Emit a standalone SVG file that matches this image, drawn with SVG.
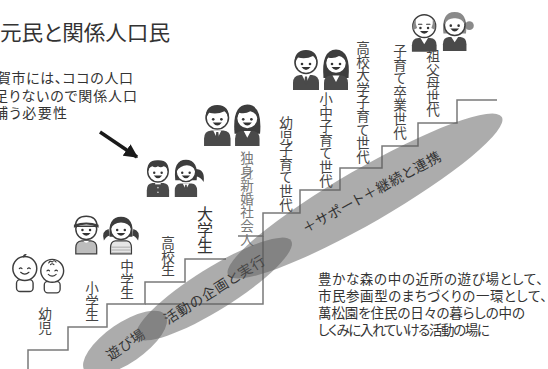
<svg xmlns="http://www.w3.org/2000/svg" xmlns:xlink="http://www.w3.org/1999/xlink" width="548" height="369" viewBox="0 0 548 369">
  <style>
    text { font-family: "Noto Sans CJK JP", "Noto Sans", sans-serif; fill: #333; font-feature-settings: "palt"; }
    .title { font-size: 21px; }
    .note { font-size: 14px; }
    .body { font-size: 13.5px; }
    .v { writing-mode: vertical-rl; font-size: 13.6px; fill: #444; font-feature-settings: normal; }
    .vl { fill: #777; }
    .big { font-size: 16px; fill: #333; }
    .band { font-size: 14px; fill: #333; dominant-baseline: central; text-anchor: middle; }
    .stair { fill: none; stroke: #7a7a7a; stroke-width: 1.5; }
    .zone { fill: #5a5a5a; fill-opacity: 0.5; }
    .hair { fill: #3d3d3d; }
    .grey { fill: #8a8a8a; }
    .suit { fill: #4a4a4a; }
    .skin { fill: #fff; stroke: #3d3d3d; stroke-width: 1.5; }
    .ink { fill: #333; }
    .stroke { fill: none; stroke: #333; stroke-width: 1.2; stroke-linecap: round; }
  </style>
  <defs>
    <marker id="head" viewBox="0 0 10 10" refX="9" refY="5" markerWidth="4" markerHeight="4" orient="auto" markerUnits="strokeWidth">
      <path d="M0,0 L10,5 L0,10 Z" fill="#1a1a1a"/>
    </marker>
    <!-- shared face parts -->
    <g id="face">
      <circle class="ink" cx="11" cy="18" r="1.3"/>
      <circle class="ink" cx="19" cy="18" r="1.3"/>
      <path class="ink" d="M10.5,21 Q15,27 19.5,21 Z"/>
    </g>
    <!-- adult man in suit, 30x44 -->
    <g id="man">
      <path class="suit" d="M2,44 V37 Q2,29.5 9,29 H21 Q28,29.5 28,37 V44 Z"/>
      <path fill="#fff" d="M11,29 L15,37 L19,29 Z"/>
      <path class="suit" d="M14,30.5 H16 L16.8,37 L15,39 L13.2,37 Z"/>
      <circle class="skin" cx="15" cy="16.5" r="11"/>
      <path class="hair" d="M3.8,18 Q2.5,4.5 15,4 Q27.5,4.5 26.2,18 Q25,12 22,10 Q15,13.5 7,11.5 Q5,14 3.8,18 Z"/>
      <use href="#face"/>
    </g>
    <!-- adult woman, 30x44 -->
    <g id="woman">
      <path class="hair" d="M2.5,32 Q0,4 15,3.5 Q30,4 27.5,32 Z"/>
      <path class="suit" d="M3,44 V37 Q3,30 9,29.5 H21 Q27,30 27,37 V44 Z"/>
      <path fill="#fff" d="M11.5,29.5 L15,36 L18.5,29.5 Z"/>
      <circle class="skin" cx="15" cy="17" r="10.5"/>
      <path class="hair" d="M4.5,17 Q4.5,5 15,5 Q25.5,5 25.5,17 Q23,11 18,10 Q13,13 7,11.5 Q5.5,14 4.5,17 Z"/>
      <use href="#face"/>
    </g>
    <!-- schoolboy in gakuran -->
    <g id="gakuran">
      <path class="suit" d="M3,44 V37 Q3,29.5 9,29 H21 Q27,29.5 27,37 V44 Z"/>
      <path fill="#fff" d="M12,29 H18 V30.5 H12 Z"/>
      <circle fill="#ccc" cx="15" cy="34" r="0.9"/>
      <circle fill="#ccc" cx="15" cy="39" r="0.9"/>
      <circle class="skin" cx="15" cy="17" r="11"/>
      <path class="hair" d="M3.8,18 Q2,4 15,4.5 Q28,4 26.2,18 Q25,11 21,11 Q18,13 15,11 Q12,13 9,11 Q5,12 3.8,18 Z"/>
      <use href="#face"/>
    </g>
    <!-- schoolgirl with ponytail -->
    <g id="ponygirl">
      <path class="hair" d="M25,14 Q36,14 34,28 Q31,22 25,22 Z"/>
      <path class="hair" d="M3.5,26 Q1,4 15,4 Q29,4 26.5,26 Z"/>
      <path class="suit" d="M3,44 V37 Q3,30 9,29.5 H21 Q27,30 27,37 V44 Z"/>
      <path fill="#fff" d="M11.5,29.5 L15,36 L18.5,29.5 Z"/>
      <path class="suit" d="M14.2,31 H15.8 L16.3,35 L15,36.5 L13.7,35 Z"/>
      <circle class="skin" cx="15" cy="17" r="10.5"/>
      <path class="hair" d="M4.5,17 Q4.5,5 15,5 Q25.5,5 25.5,17 Q23,10 16,10 Q9,10 4.5,17 Z"/>
      <use href="#face"/>
    </g>
    <!-- boy with cap -->
    <g id="capboy">
      <path fill="#bdbdbd" stroke="#3d3d3d" stroke-width="1.3" d="M4,44 V38 Q4,31 10,30.5 H20 Q26,31 26,38 V44 Z"/>
      <path fill="#fff" d="M12,30.5 Q15,34 18,30.5 Z"/>
      <circle class="skin" cx="15" cy="18" r="11"/>
      <path fill="#fff" stroke="#3d3d3d" stroke-width="1.5" d="M3.5,15 Q4,4.5 15,4.5 Q26,4.5 26.5,15 Z"/>
      <path class="hair" d="M2,16.5 Q15,10 28,16.5 L28,13.5 Q15,8.5 2,13.5 Z"/>
      <g transform="translate(0,1)"><use href="#face"/></g>
    </g>
    <!-- girl with pigtails, 40x44 -->
    <g id="pigtailgirl">
      <path class="hair" d="M7,18 Q-1,20 2,30 Q5,25 8,25 Z"/>
      <path class="hair" d="M33,18 Q41,20 38,30 Q35,25 32,25 Z"/>
      <path class="hair" d="M8,26 Q6,5 20,5 Q34,5 32,26 Z"/>
      <path fill="#e6e6e6" stroke="#3d3d3d" stroke-width="1.3" d="M9,44 V38 Q9,31 14,30.5 H26 Q31,31 31,38 V44 Z"/>
      <path fill="none" stroke="#999" stroke-width="0.8" d="M10,37 H30 M10,40 H30 M10,43 H30"/>
      <circle class="skin" cx="20" cy="18" r="11"/>
      <path class="hair" d="M9,18 Q9,6 20,6 Q31,6 31,18 Q28,11 20,11 Q12,11 9,18 Z"/>
      <g transform="translate(5,1)"><use href="#face"/></g>
    </g>
    <!-- infant -->
    <g id="baby">
      <rect x="6" y="30" width="18" height="13" rx="4" fill="#fff" stroke="#3d3d3d" stroke-width="1.5"/>
      <circle fill="#fff" stroke="#3d3d3d" stroke-width="1.6" cx="15" cy="18" r="13"/>
      <path class="hair" d="M13,6 Q13,1 17.5,2.5 Q15,3.5 16,5.5 Z"/>
      <path class="stroke" d="M9,18 Q10.5,16.5 12,18 M18,18 Q19.5,16.5 21,18 M10.5,22 Q15,26 19.5,22"/>
    </g>
    <!-- infant with curls -->
    <g id="baby2">
      <rect x="6" y="30" width="18" height="13" rx="4" fill="#fff" stroke="#3d3d3d" stroke-width="1.5"/>
      <circle fill="#fff" stroke="#3d3d3d" stroke-width="1.6" cx="15" cy="18" r="13"/>
      <path class="stroke" d="M11,9 Q12.5,6 15,8 Q17,5 19.5,8 M13,11 Q15,9 17,11"/>
      <path class="stroke" d="M9,18 Q10.5,16.5 12,18 M18,18 Q19.5,16.5 21,18 M10.5,22 Q15,26 19.5,22"/>
    </g>
    <!-- grandfather -->
    <g id="grandpa">
      <path class="suit" d="M2,44 V37 Q2,30 9,29.5 H21 Q28,30 28,37 V44 Z"/>
      <path fill="#fff" d="M11,29.5 L15,36 L19,29.5 Z"/>
      <circle class="skin" cx="15" cy="17" r="12"/>
      <path class="grey" d="M3.5,21 Q2.5,13 6,9.5 Q5.5,15 7.5,19 Z"/>
      <path class="grey" d="M26.5,21 Q27.5,13 24,9.5 Q24.5,15 22.5,19 Z"/>
      <path class="stroke" d="M9,15 H12.5 M17.5,15 H21"/>
      <g transform="translate(0,1)"><use href="#face"/></g>
    </g>
    <!-- grandmother, 36x44 -->
    <g id="grandma">
      <circle class="grey" cx="30" cy="18" r="4.5"/>
      <path class="grey" d="M3.5,26 Q1,4 15,4 Q29,4 26.5,26 Z"/>
      <path class="suit" d="M3,44 V37 Q3,30 9,29.5 H21 Q27,30 27,37 V44 Z"/>
      <path fill="#fff" d="M11.5,29.5 L15,35 L18.5,29.5 Z"/>
      <circle class="skin" cx="15" cy="17.5" r="10.5"/>
      <path class="grey" d="M4.5,17 Q4.5,5 15,5 Q25.5,5 25.5,17 Q22,10 15,10.5 Q8,10 4.5,17 Z"/>
      <use href="#face"/>
    </g>
  </defs>

  <!-- heading and note -->
  <text class="title" x="0" y="40" textLength="170" lengthAdjust="spacingAndGlyphs">元民と関係人口民</text>
  <g id="note">
    <text class="note" x="-3" y="83" textLength="136">賀市には、ココの人口</text>
    <text class="note" x="-6" y="101" textLength="143">足りないので関係人口</text>
    <text class="note" x="-6" y="118" textLength="73">補う必要性</text>
  </g>

  <!-- staircase of life stages -->
  <g id="stairs">
    <path class="stair" d="M28,369 V350 H68 V327 H107 V304 H145 V282 H185 V259 H226 M238,236 H263 V213 H300 V190 H340 V168 H382 V146 H418 V123 H457 V100 H497"/>
    <path class="stair" d="M145,304 H263 V236"/>
  </g>

  <!-- stage labels -->
  <g id="labels">
    <text class="v" x="45" y="307">幼児</text>
    <text class="v" x="92" y="281">小学生</text>
    <text class="v" x="127" y="259">中学生</text>
    <text class="v" x="168" y="236">高校生</text>
    <text class="v big" x="205" y="206">大学生</text>
    <text class="v vl" x="247" y="151">独身新婚社会人</text>
    <text class="v" x="286" y="116">幼児子育て世代</text>
    <text class="v" x="326" y="92">小中子育て世代</text>
    <text class="v" x="363" y="41">高校大学子育て世代</text>
    <text class="v" x="400" y="44">子育て卒業世代</text>
    <text class="v" x="433" y="49">祖父母世代</text>
  </g>

  <!-- activity zones -->
  <g id="zone-play">
    <ellipse class="zone" cx="125" cy="343" rx="49" ry="20" transform="rotate(-34.5 125 343)"/>
    <text class="band" x="125" y="344" transform="rotate(-33.7 125 344)" textLength="43">遊び場</text>
  </g>
  <g id="zone-plan">
    <ellipse class="zone" cx="214" cy="289" rx="91" ry="21" transform="rotate(-32 214 289)"/>
    <text class="band" x="214" y="289" transform="rotate(-32 214 289)" textLength="116">活動の企画と実行</text>
  </g>
  <g id="zone-support">
    <ellipse class="zone" cx="365" cy="196" rx="158" ry="27" transform="rotate(-30 365 196)"/>
    <text class="band" x="371" y="191.5" transform="rotate(-28.5 371 191.5)" textLength="155">＋サポート＋継続と連携</text>
  </g>

  <!-- people for each stage -->
  <g id="infants">
    <use href="#baby" transform="translate(11,252) scale(0.92)"/>
    <use href="#baby2" transform="translate(39,255) scale(0.88)"/>
  </g>
  <g id="elementary">
    <use href="#capboy" transform="translate(72,212) scale(0.95)"/>
    <use href="#pigtailgirl" transform="translate(102,212) scale(0.95)"/>
  </g>
  <g id="middle-school">
    <use href="#gakuran" transform="translate(144,156) scale(0.93)"/>
    <use href="#ponygirl" transform="translate(172,156) scale(0.93)"/>
  </g>
  <g id="young-adults">
    <use href="#man" transform="translate(202,101) scale(1.02)"/>
    <use href="#woman" transform="translate(232,101) scale(1.02)"/>
  </g>
  <g id="parents">
    <use href="#man" transform="translate(291,46)"/>
    <use href="#woman" transform="translate(321,46)"/>
  </g>
  <g id="grandparents">
    <use href="#grandpa" transform="translate(410,10) scale(0.95)"/>
    <use href="#grandma" transform="translate(440,8) scale(0.98)"/>
  </g>

  <!-- pointer -->
  <g id="connectors">
    <line x1="100" y1="132" x2="137" y2="157" stroke="#1a1a1a" stroke-width="3.5" marker-end="url(#head)"/>
  </g>

  <!-- description -->
  <g id="description">
    <text class="body" x="318" y="284" textLength="225">豊かな森の中の近所の遊び場として、</text>
    <text class="body" x="318" y="301" textLength="229">市民参画型のまちづくりの一環として、</text>
    <text class="body" x="318" y="318" textLength="207">萬松園を住民の日々の暮らしの中の</text>
    <text class="body" x="318" y="335" textLength="172">しくみに入れていける活動の場に</text>
  </g>
</svg>
